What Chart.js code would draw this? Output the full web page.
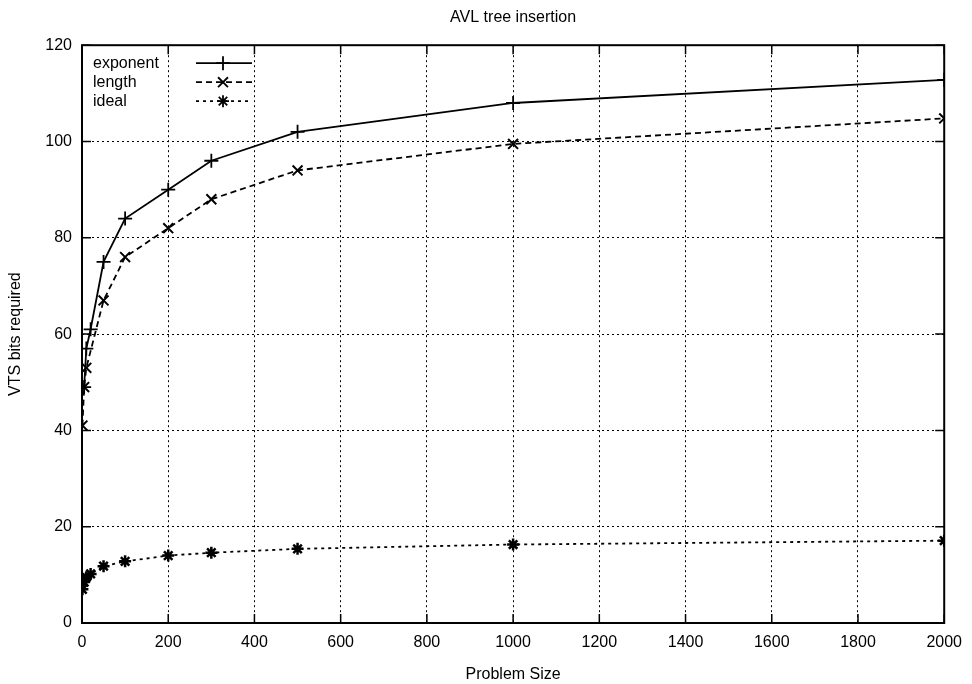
<!DOCTYPE html>
<html lang="en">
<head>
    <meta charset="UTF-8">
    <title>AVL tree insertion</title>
    <script src="https://cdn.jsdelivr.net/npm/chart.js"></script>
    <style>
        body { margin: 0; background: #fff; }
        #wrap { width: 972px; height: 684px; }
    </style>
</head>
<body>

<div id="wrap">
    <canvas id="avlChart" width="972" height="684"></canvas>
</div>

<script>

// problem sizes (x) for each series
const exponentX = [5, 10, 20, 50, 100, 200, 300, 500, 1000, 2000];
const lengthX = [1, 5, 10, 50, 100, 200, 300, 500, 1000, 2000];
const idealX = [1, 5, 10, 20, 50, 100, 200, 300, 500, 1000, 2000];

// VTS bits required
const exponentBits = [49, 57, 61, 75, 84, 90, 96, 102, 108, 112.8];
const lengthBits = [41, 49, 53, 67, 76, 82, 88, 94, 99.5, 104.8];
const idealBits = [7, 8.5, 9.5, 10.2, 11.8, 12.8, 14, 14.6, 15.4, 16.3, 17.1];

const xTicks = [0, 200, 400, 600, 800, 1000, 1200, 1400, 1600, 1800, 2000];
const yTicks = [0, 20, 40, 60, 80, 100, 120];

const seriesNames = ['exponent', 'length', 'ideal'];

const FONT = 'Liberation Sans, Arial, Helvetica, sans-serif';

function pairs(xs, ys) {
    return xs.map((x, i) => ({ x: x, y: ys[i] }));
}

// frame + inward tick marks, gnuplot style
const framePlugin = {
    id: 'frame',
    afterDraw(chart) {
        const ctx = chart.ctx;
        const a = chart.chartArea;
        const xs = chart.scales.x;
        const ys = chart.scales.y;
        ctx.save();
        ctx.strokeStyle = '#000';
        ctx.lineWidth = 2;
        ctx.setLineDash([]);
        ctx.strokeRect(a.left, a.top, a.right - a.left, a.bottom - a.top);
        ctx.lineWidth = 1.5;
        const t = 9;
        xTicks.forEach(v => {
            const px = xs.getPixelForValue(v);
            ctx.beginPath();
            ctx.moveTo(px, a.bottom); ctx.lineTo(px, a.bottom - t);
            ctx.moveTo(px, a.top); ctx.lineTo(px, a.top + t);
            ctx.stroke();
        });
        yTicks.forEach(v => {
            const py = ys.getPixelForValue(v);
            ctx.beginPath();
            ctx.moveTo(a.left, py); ctx.lineTo(a.left + t, py);
            ctx.moveTo(a.right, py); ctx.lineTo(a.right - t, py);
            ctx.stroke();
        });
        ctx.restore();
    }
};

// legend drawn like gnuplot: text then line sample with marker
const keyPlugin = {
    id: 'gnukey',
    afterDraw(chart) {
        const ctx = chart.ctx;
        const a = chart.chartArea;
        ctx.save();
        ctx.font = '16px ' + FONT;
        ctx.fillStyle = '#000';
        ctx.textBaseline = 'middle';
        chart.data.datasets.forEach((ds, i) => {
            const y = a.top + 18 + i * 19;
            ctx.fillText(seriesNames[i], a.left + 11, y);
            ctx.strokeStyle = '#000';
            ctx.lineWidth = 1.8;
            ctx.setLineDash(ds.borderDash || []);
            ctx.beginPath();
            ctx.moveTo(a.left + 114, y);
            ctx.lineTo(a.left + 170, y);
            ctx.stroke();
            ctx.setLineDash([]);
            Chart.helpers.drawPoint(ctx, {
                pointStyle: ds.pointStyle,
                radius: ds.pointRadius,
                borderWidth: ds.pointBorderWidth
            }, a.left + 141, y);
        });
        ctx.restore();
    }
};

const ctx = document.getElementById('avlChart').getContext('2d');

new Chart(ctx, {
    type: 'scatter',
    data: {
        datasets: [{
            label: seriesNames[0],
            data: pairs(exponentX, exponentBits),
            showLine: true,
            borderColor: '#000',
            backgroundColor: '#000',
            borderWidth: 1.8,
            pointStyle: 'cross',
            pointRadius: 7,
            pointBorderWidth: 1.8
        }, {
            label: seriesNames[1],
            data: pairs(lengthX, lengthBits),
            showLine: true,
            borderColor: '#000',
            backgroundColor: '#000',
            borderWidth: 1.8,
            borderDash: [6, 4],
            pointStyle: 'crossRot',
            pointRadius: 7,
            pointBorderWidth: 2
        }, {
            label: seriesNames[2],
            data: pairs(idealX, idealBits),
            showLine: true,
            borderColor: '#000',
            backgroundColor: '#000',
            borderWidth: 1.8,
            borderDash: [3, 4],
            pointStyle: 'star',
            pointRadius: 6,
            pointBorderWidth: 2.5
        }]
    },
    options: {
        responsive: false,
        animation: false,
        layout: { padding: { left: 0, right: 20, top: 0, bottom: 0 } },
        scales: {
            x: {
                type: 'linear',
                min: 0,
                max: 2000,
                afterBuildTicks: s => { s.ticks = xTicks.map(v => ({ value: v })); },
                afterFit: s => { s.height = 61; },
                ticks: {
                    color: '#000',
                    font: { family: FONT, size: 16 },
                    padding: 10,
                    maxRotation: 0,
                    callback: v => String(v)
                },
                grid: { color: '#000', lineWidth: 1, drawTicks: false },
                border: { display: false, dash: [2, 3] },
                title: {
                    display: true,
                    text: 'Problem Size',
                    color: '#000',
                    font: { family: FONT, size: 16 },
                    padding: { top: 6, bottom: 0 }
                }
            },
            y: {
                min: 0,
                max: 120,
                afterBuildTicks: s => { s.ticks = yTicks.map(v => ({ value: v })); },
                afterFit: s => { s.width = 82; },
                ticks: {
                    color: '#000',
                    font: { family: FONT, size: 16 },
                    padding: 10,
                    callback: v => String(v)
                },
                grid: { color: '#000', lineWidth: 1, drawTicks: false },
                border: { display: false, dash: [2, 3] },
                title: {
                    display: true,
                    text: 'VTS bits required',
                    color: '#000',
                    font: { family: FONT, size: 16 },
                    padding: { top: 6, bottom: 0 }
                }
            }
        },
        plugins: {
            legend: { display: false },
            tooltip: { enabled: false },
            title: {
                display: true,
                text: 'AVL tree insertion',
                color: '#000',
                fullSize: false,
                font: { family: FONT, size: 16, weight: 'normal' },
                padding: { top: 8, bottom: 18 }
            }
        }
    },
    plugins: [framePlugin, keyPlugin]
});
</script>

</body>
</html>
